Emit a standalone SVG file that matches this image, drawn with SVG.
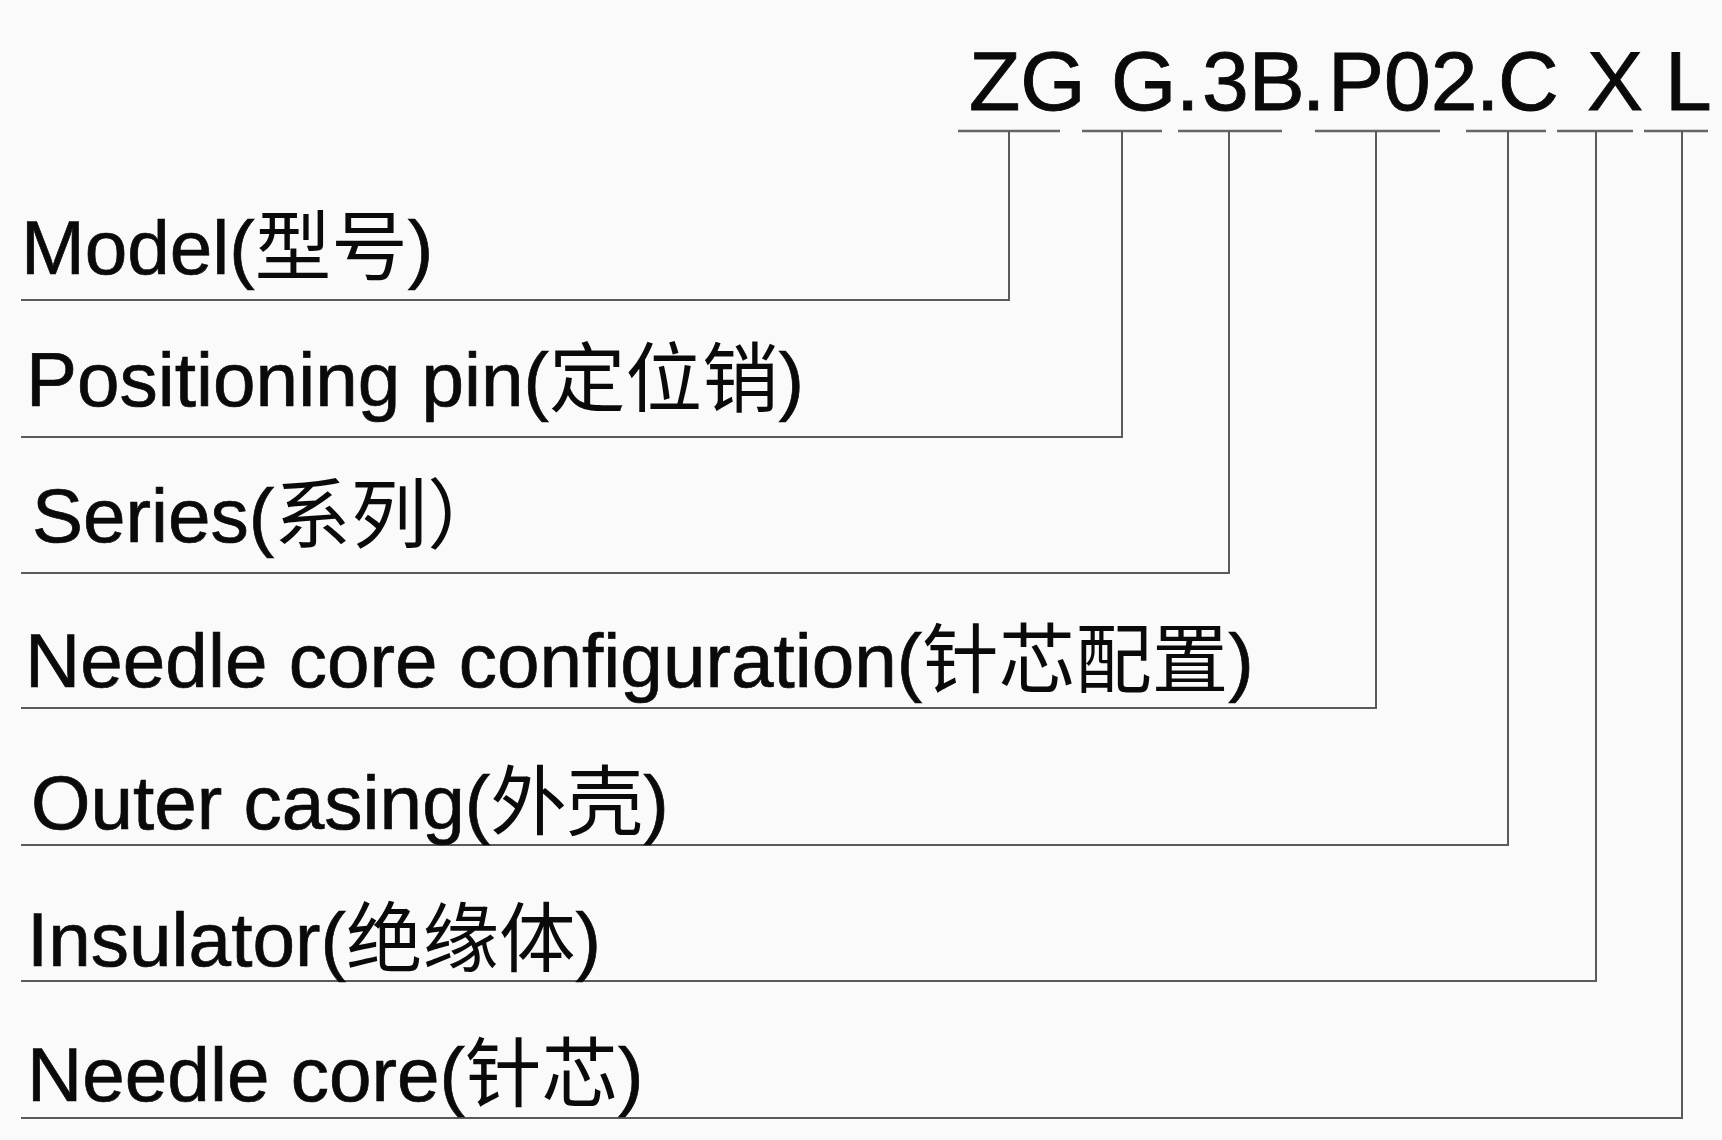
<svg xmlns="http://www.w3.org/2000/svg" width="1722" height="1140" viewBox="0 0 1722 1140">
<style>
.t{font-family:"Liberation Sans","Noto Sans CJK SC",sans-serif;fill:#0a0a0a;stroke:#0a0a0a;stroke-width:0.7;}
.lbl{font-size:76.5px;}
.c{stroke-width:0;}
.code{font-size:84px;stroke-width:0.9;}
.ln{fill:none;stroke:#5a5a5a;stroke-width:2;}
.ul{fill:none;stroke:#666;stroke-width:2.5;}
</style>
<rect x="0" y="0" width="1722" height="1140" fill="#fafafa"/>
<g id="code">
<text class="t code" y="110"><tspan x="969">ZG</tspan><tspan x="1111">G</tspan><tspan x="1176">.</tspan><tspan x="1202">3B</tspan><tspan x="1302">.</tspan><tspan x="1328">P02</tspan><tspan x="1476">.</tspan><tspan x="1498">C</tspan><tspan x="1587">X</tspan><tspan x="1665">L</tspan></text>
</g>
<g id="connectors">
<path class="ul" d="M958 131H1060M1082 131H1162M1178 131H1282M1315 131H1440M1466 131H1546M1557 131H1633M1644 131H1708"/>
<path class="ln" d="M1009 131V300H21"/>
<path class="ln" d="M1122 131V437H21"/>
<path class="ln" d="M1229 131V573H21"/>
<path class="ln" d="M1376 131V708H21"/>
<path class="ln" d="M1508 131V845H21"/>
<path class="ln" d="M1596 131V981H21"/>
<path class="ln" d="M1682 131V1118H21"/>
</g>
<g id="model"><text class="t lbl" x="21" y="274">Model(<tspan class="c">型号</tspan>)</text></g>
<g id="positioning-pin"><text class="t lbl" x="26" y="406">Positioning pin(<tspan class="c">定位销</tspan>)</text></g>
<g id="series"><text class="t lbl" x="32" y="542">Series(<tspan class="c">系列）</tspan></text></g>
<g id="needle-core-config"><text class="t lbl" x="25" y="687">Needle core configuration(<tspan class="c">针芯配置</tspan>)</text></g>
<g id="outer-casing"><text class="t lbl" x="31" y="829">Outer casing(<tspan class="c">外壳</tspan>)</text></g>
<g id="insulator"><text class="t lbl" x="27" y="966">Insulator(<tspan class="c">绝缘体</tspan>)</text></g>
<g id="needle-core"><text class="t lbl" x="27" y="1101">Needle core(<tspan class="c">针芯</tspan>)</text></g>
</svg>
